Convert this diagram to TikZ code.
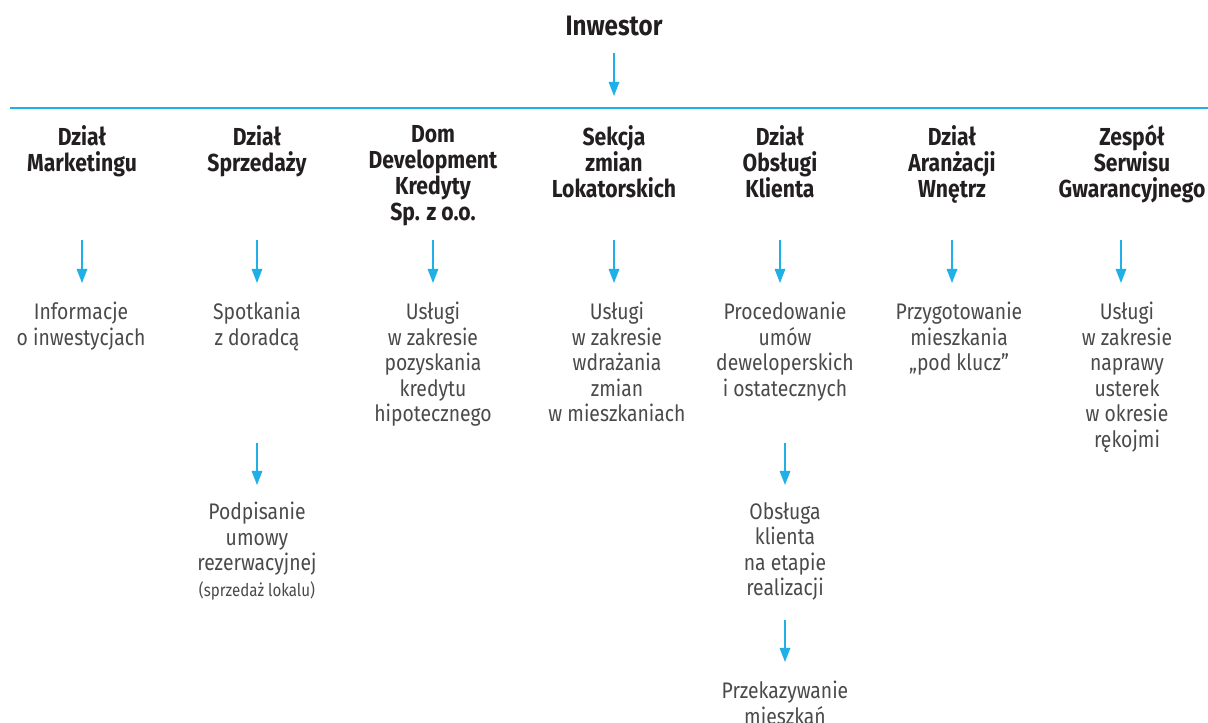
\documentclass[tikz,border=0pt]{standalone}
\usepackage{fontspec}
\setmainfont{Fira Sans}[FakeStretch=0.86]
\usetikzlibrary{arrows.meta}

\definecolor{ddblue}{HTML}{1EB0E6}
\definecolor{ddtext}{HTML}{231F20}
\definecolor{ddgray}{HTML}{4A4A4A}

\tikzset{
  head/.style={font=\bfseries\fontsize{14}{14.8}\selectfont, text=ddtext, align=center, anchor=north, inner sep=0pt},
  task/.style={font=\fontsize{12.8}{14.5}\selectfont, text=ddgray, align=center, anchor=north, inner sep=0pt},
  flow/.style={draw=ddblue, line width=0.8pt, -{Triangle[width=6pt,length=8pt]}},
}

\begin{document}
\begin{tikzpicture}[x=0.02cm,y=-0.02cm]
        \useasboundingbox (0,0) rectangle (1208,723);

        % Investor and rail
        \node[head, font=\bfseries\fontsize{16}{18}\selectfont] (inw) at (614,16) {Inwestor};
        \coordinate (inw-s) at (614,53);
        \coordinate (inw-e) at (614,96);
        \draw[flow] (inw-s) -- (inw-e);
        \coordinate (rail-l) at (10,108);
        \coordinate (rail-r) at (1208,108);
        \draw[ddblue, line width=1.1pt] (rail-l) -- (rail-r);

        % Departments
        \node[head] (mkt) at (82,125) {Dział\\Marketingu};
        \node[head] (spr) at (257,125) {Dział\\Sprzedaży};
        \node[head] (ddk) at (433,125) {Dom\\Development\\Kredyty\\Sp. z o.o.};
        \node[head] (szl) at (614,125) {Sekcja\\zmian\\Lokatorskich};
        \node[head] (dok) at (780,125) {Dział\\Obsługi\\Klienta};
        \node[head] (daw) at (952,125) {Dział\\Aranżacji\\Wnętrz};
        \node[head] (zsg) at (1132,125) {Zespół\\Serwisu\\Gwarancyjnego};

        % Arrow ends below the departments
        \coordinate (mkt-s) at (82,240);   \coordinate (mkt-e) at (82,283);
        \coordinate (spr-s) at (257,240);  \coordinate (spr-e) at (257,283);
        \coordinate (ddk-s) at (433,240);  \coordinate (ddk-e) at (433,283);
        \coordinate (szl-s) at (614,240);  \coordinate (szl-e) at (614,283);
        \coordinate (dok-s) at (780,240);  \coordinate (dok-e) at (780,283);
        \coordinate (daw-s) at (952,240);  \coordinate (daw-e) at (952,283);
        \coordinate (zsg-s) at (1121,240); \coordinate (zsg-e) at (1121,283);
        \draw[flow] (mkt-s) -- (mkt-e);
        \draw[flow] (spr-s) -- (spr-e);
        \draw[flow] (ddk-s) -- (ddk-e);
        \draw[flow] (szl-s) -- (szl-e);
        \draw[flow] (dok-s) -- (dok-e);
        \draw[flow] (daw-s) -- (daw-e);
        \draw[flow] (zsg-s) -- (zsg-e);

        % Services
        \node[task] (mktA) at (81,302) {Informacje\\o inwestycjach};
        \node[task] (sprA) at (257,302) {Spotkania\\z doradcą};
        \node[task] (ddkA) at (433,302) {Usługi\\w zakresie\\pozyskania\\kredytu\\hipotecznego};
        \node[task] (szlA) at (617,302) {Usługi\\w zakresie\\wdrażania\\zmian\\w mieszkaniach};
        \node[task] (dokA) at (785,302) {Procedowanie\\umów\\deweloperskich\\i ostatecznych};
        \node[task] (dawA) at (959,302) {Przygotowanie\\mieszkania\\„pod klucz”};
        \node[task] (zsgA) at (1127,302) {Usługi\\w zakresie\\naprawy\\usterek\\w okresie\\rękojmi};

        % Next steps
        \coordinate (sprA-s) at (257,443); \coordinate (sprA-e) at (257,485);
        \coordinate (dokA-s) at (785,443); \coordinate (dokA-e) at (785,485);
        \draw[flow] (sprA-s) -- (sprA-e);
        \draw[flow] (dokA-s) -- (dokA-e);
        \node[task] (sprB) at (257,502) {Podpisanie\\umowy\\rezerwacyjnej\\{\fontsize{10}{12}\selectfont(sprzedaż lokalu)}};
        \node[task] (dokB) at (785,502) {Obsługa\\klienta\\na etapie\\realizacji};
        \coordinate (dokB-s) at (785,620); \coordinate (dokB-e) at (785,662);
        \draw[flow] (dokB-s) -- (dokB-e);
        \node[task] (dokC) at (785,681) {Przekazywanie\\mieszkań};
\end{tikzpicture}
\end{document}
